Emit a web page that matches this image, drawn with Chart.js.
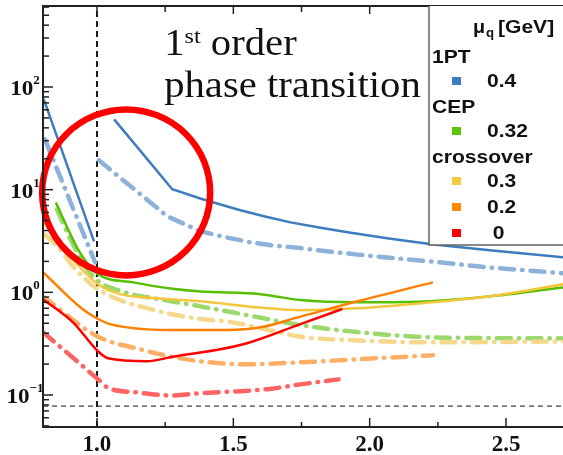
<!DOCTYPE html>
<html>
<head>
<meta charset="utf-8">
<script src="https://cdn.jsdelivr.net/npm/chart.js@4.4.1/dist/chart.umd.min.js"></script>
<style>
  html, body { margin: 0; padding: 0; background: #fff; }
  #wrap { width: 563px; height: 455px; }
</style>
</head>
<body>
<div id="wrap"><canvas id="chart" width="563" height="455"></canvas></div>
<script>
// ── Axes ─────────────────────────────────────────────────────────────────────
const xTicks = [1.0, 1.5, 2.0, 2.5];
const xMinorTicks = [1.25, 1.75, 2.25];
const yDecades = [-1, 0, 1, 2];
const X_MIN = 0.802, X_MAX = 2.709;
const Y_MIN = 0.0488, Y_MAX = 615;

// ── Series (null = break in the curve) ───────────────────────────────────────
// mu_q = 0.4 (1PT)
const xBlueSolid = [0.805, 0.989, 1.03, 1.063, 1.276, 1.379, 1.45, 1.526, 1.62, 1.710, 1.82, 1.919, 2.07, 2.235, 2.45, 2.713];
const yBlueSolid = [75.7, 3.14, null, 48.4, 10.1, 8.2, 7.2, 6.3, 5.45, 4.8, 4.25, 3.84, 3.35, 2.93, 2.56, 2.19];
const xBlueDash = [0.809, 0.993, 1.0, 1.007, 1.258, 1.379, 1.47, 1.563, 1.65, 1.746, 1.85, 1.956, 2.09, 2.225, 2.434, 2.713];
const yBlueDash = [30.9, 1.96, null, 19.3, 5.5, 3.93, 3.45, 3.07, 2.85, 2.7, 2.5, 2.33, 2.15, 2.0, 1.75, 1.53];

// mu_q = 0.32 (CEP)
const xGreenSolid = [0.849, 0.937, 1.004, 1.133, 1.269, 1.379, 1.600, 1.746, 1.956, 2.225, 2.434, 2.713];
const yGreenSolid = [7.5, 2.45, 1.50, 1.25, 1.09, 1.02, 0.96, 0.84, 0.80, 0.82, 0.91, 1.12];
const xGreenDash = [0.853, 0.912, 0.985, 1.092, 1.232, 1.379, 1.537, 1.746, 1.956, 2.225, 2.713];
const yGreenDash = [6.4, 2.93, 1.43, 1.02, 0.855, 0.73, 0.61, 0.48, 0.41, 0.365, 0.356];

// mu_q = 0.3 (crossover)
const xYellowSolid = [0.802, 0.911, 1.004, 1.085, 1.232, 1.379, 1.600, 1.746, 1.956, 2.225, 2.434, 2.713];
const yYellowSolid = [4.9, 2.1, 1.20, 0.96, 0.87, 0.82, 0.71, 0.67, 0.70, 0.80, 0.91, 1.20];
const xYellowDash = [0.808, 0.864, 0.912, 1.004, 1.232, 1.379, 1.478, 1.647, 1.746, 1.956, 2.225, 2.713];
const yYellowDash = [3.67, 2.62, 1.79, 1.07, 0.65, 0.55, 0.52, 0.42, 0.37, 0.34, 0.326, 0.333];

// mu_q = 0.2
const xOrangeSolid = [0.802, 0.949, 1.004, 1.048, 1.269, 1.478, 1.600, 1.746, 1.956, 2.232];
const yOrangeSolid = [1.57, 0.68, 0.55, 0.49, 0.43, 0.43, 0.456, 0.58, 0.82, 1.25];
const xOrangeDash = [0.802, 1.004, 1.158, 1.269, 1.379, 1.537, 1.746, 1.956, 2.232];
const yOrangeDash = [0.91, 0.37, 0.279, 0.238, 0.213, 0.199, 0.208, 0.223, 0.244];

// mu_q = 0
const xRedSolid = [0.802, 0.912, 1.004, 1.040, 1.184, 1.269, 1.537, 1.746, 1.867, 1.900];
const yRedSolid = [0.855, 0.51, 0.266, 0.228, 0.213, 0.233, 0.312, 0.49, 0.64, 0.69];
const xRedDash = [0.802, 1.004, 1.037, 1.147, 1.269, 1.379, 1.625, 1.746, 1.886];
const yRedDash = [0.41, 0.142, 0.119, 0.106, 0.099, 0.104, 0.114, 0.127, 0.142];

// reference lines and highlighted region
const refLineX = 1.0;
const refLineY = 0.078;
const circleCenter = [1.107, 9.4];

// legend entries
const legendGroups = [
  { title: '1PT', items: [{ label: '0.4', color: '#3d7cbf' }] },
  { title: 'CEP', items: [{ label: '0.32', color: '#5cc40a' }] },
  { title: 'crossover', items: [
    { label: '0.3', color: '#f5c93f' },
    { label: '0.2', color: '#ff8a00' },
    { label: ' 0', color: '#ff0000' }
  ] }
];

const pts = (xs, ys) => xs.map((x, i) => ({ x, y: ys[i] }));

const DASHDOT = [14, 8, 0.5, 8];
function solid(xs, ys, color, straight) {
  const ds = { data: pts(xs, ys), borderColor: color, borderWidth: 2.5, pointRadius: 0, fill: false };
  if (straight) ds.tension = 0; else ds.cubicInterpolationMode = 'monotone';
  return ds;
}
function dashed(xs, ys, color, straight) {
  const ds = { data: pts(xs, ys), borderColor: color, borderWidth: 4.5, pointRadius: 0,
               borderDash: DASHDOT, borderCapStyle: 'round', fill: false };
  if (straight) ds.tension = 0; else ds.cubicInterpolationMode = 'monotone';
  return ds;
}

// ── Helpers for drawn text ───────────────────────────────────────────────────
function stretchText(ctx, text, x, y, sx) {
  ctx.save();
  ctx.translate(x, y);
  ctx.scale(sx, 1);
  ctx.fillText(text, 0, 0);
  ctx.restore();
  return ctx.measureText(text).width * sx;
}
function tick(ctx, x1, y1, x2, y2) {
  ctx.beginPath(); ctx.moveTo(x1, y1); ctx.lineTo(x2, y2); ctx.stroke();
}

const overlay = {
  id: 'overlay',
  afterDatasetsDraw(chart) {
    const { ctx, chartArea: a, scales: { x, y } } = chart;
    ctx.save();

    // red circle around the 1PT region
    ctx.strokeStyle = '#ff0000';
    ctx.lineWidth = 6.5;
    ctx.beginPath();
    ctx.ellipse(x.getPixelForValue(circleCenter[0]), y.getPixelForValue(circleCenter[1]), 84, 83, 0, 0, Math.PI * 2);
    ctx.stroke();

    // frame
    ctx.strokeStyle = '#222';
    ctx.lineWidth = 2;
    ctx.beginPath();
    ctx.moveTo(a.right, a.top); ctx.lineTo(a.left, a.top);
    ctx.lineTo(a.left, a.bottom); ctx.lineTo(a.right, a.bottom);
    ctx.stroke();

    // tick marks (inside)
    ctx.lineWidth = 1.5;
    xTicks.forEach(v => {
      const px = x.getPixelForValue(v);
      tick(ctx, px, a.bottom, px, a.bottom - 9);
      tick(ctx, px, a.top, px, a.top + 8);
    });
    xMinorTicks.forEach(v => {
      const px = x.getPixelForValue(v);
      tick(ctx, px, a.bottom, px, a.bottom - 5);
      tick(ctx, px, a.top, px, a.top + 6);
    });
    for (let e = -2; e <= 2; e++) {
      for (let m = 1; m <= 9; m++) {
        const v = m * Math.pow(10, e);
        if (v < Y_MIN || v > Y_MAX) continue;
        const py = y.getPixelForValue(v);
        tick(ctx, a.left, py, a.left + (m === 1 ? 10 : 6), py);
      }
    }

    // y labels 10^n
    ctx.fillStyle = '#111';
    ctx.textBaseline = 'alphabetic';
    yDecades.forEach(e => {
      const py = y.getPixelForValue(Math.pow(10, e));
      const sup = e < 0 ? '\u2212' + Math.abs(e) : String(e);
      ctx.font = 'bold 21px "Liberation Serif"';
      const wBase = ctx.measureText('10').width * 1.1;
      ctx.font = 'bold 13px "Liberation Serif"';
      const wSup = ctx.measureText(sup).width;
      const left = 25 - (wBase + wSup) / 2;
      ctx.font = 'bold 21px "Liberation Serif"';
      stretchText(ctx, '10', left, py + 8, 1.1);
      ctx.font = 'bold 13px "Liberation Serif"';
      ctx.fillText(sup, left + wBase, py - 3);
    });

    // annotation text
    ctx.fillStyle = '#111';
    const tx = x.getPixelForValue(1.25) - 1;
    ctx.font = '37px "Liberation Serif"';
    let cx = tx + stretchText(ctx, '1', tx, a.top + 49, 1.1);
    ctx.font = '22px "Liberation Serif"';
    cx += stretchText(ctx, 'st', cx, a.top + 37, 1.1);
    ctx.font = '37px "Liberation Serif"';
    stretchText(ctx, ' order', cx, a.top + 49, 1.1);
    stretchText(ctx, 'phase transition', tx, a.top + 91, 1.1);

    // legend box
    const lx = 429, ly = a.top, lb = 245;
    ctx.fillStyle = '#fff';
    ctx.fillRect(lx, ly, a.right - lx + 2, lb - ly);
    ctx.strokeStyle = '#666';
    ctx.lineWidth = 1.5;
    ctx.beginPath();
    ctx.moveTo(lx, ly); ctx.lineTo(lx, lb); ctx.lineTo(a.right + 2, lb);
    ctx.stroke();

    ctx.fillStyle = '#111';
    ctx.font = 'bold 18px "Liberation Sans"';
    let hx = lx + 44;
    hx += stretchText(ctx, '\u03bc', hx, 33, 1.1);
    ctx.font = 'bold 12px "Liberation Sans"';
    stretchText(ctx, 'q', hx + 1, 37, 1.1);
    ctx.font = 'bold 18px "Liberation Sans"';
    stretchText(ctx, '[GeV]', lx + 69, 33, 1.17);

    let by = 63;
    legendGroups.forEach(g => {
      ctx.fillStyle = '#111';
      ctx.font = 'bold 18px "Liberation Sans"';
      stretchText(ctx, g.title, lx + 3, by, 1.17);
      by += 24;
      g.items.forEach(it => {
        ctx.fillStyle = it.color;
        ctx.fillRect(lx + 23, by - 10, 9, 8);
        ctx.fillStyle = '#111';
        stretchText(ctx, it.label, lx + 58, by, 1.17);
        by += 26;
      });
    });

    ctx.restore();
  }
};

new Chart(document.getElementById('chart'), {
  type: 'line',
  data: {
    datasets: [
      solid(xRedSolid, yRedSolid, '#ff0000'),
      solid(xOrangeSolid, yOrangeSolid, '#ff8000'),
      solid(xYellowSolid, yYellowSolid, '#f5c63c'),
      solid(xGreenSolid, yGreenSolid, '#55bf00'),
      solid(xBlueSolid, yBlueSolid, '#3d7cbf', true),
      dashed(xRedDash, yRedDash, '#ff6363'),
      dashed(xOrangeDash, yOrangeDash, '#ffae66'),
      dashed(xYellowDash, yYellowDash, '#f5d88c'),
      dashed(xGreenDash, yGreenDash, '#9cd96c'),
      dashed(xBlueDash, yBlueDash, '#8db2d9', true),
      { data: [{ x: refLineX, y: Y_MIN }, { x: refLineX, y: Y_MAX }], borderColor: '#1a1a1a',
        borderWidth: 2, borderDash: [6, 4], pointRadius: 0 },
      { data: [{ x: X_MIN, y: refLineY }, { x: X_MAX, y: refLineY }], borderColor: '#777',
        borderWidth: 1.6, borderDash: [5, 4], pointRadius: 0 }
    ]
  },
  options: {
    responsive: false,
    animation: false,
    layout: { padding: { top: 6, right: 0, left: 0, bottom: 0 } },
    plugins: { legend: { display: false }, tooltip: { enabled: false } },
    scales: {
      x: {
        type: 'linear', min: X_MIN, max: X_MAX,
        grid: { display: false, drawTicks: false },
        border: { display: false },
        afterBuildTicks: s => { s.ticks = xTicks.map(v => ({ value: v })); },
        afterFit: s => { s.height = 28; },
        ticks: {
          padding: 4, color: '#111',
          font: { family: 'Liberation Serif', size: 23, weight: 'bold' },
          callback: v => v.toFixed(1)
        }
      },
      y: {
        type: 'logarithmic', min: Y_MIN, max: Y_MAX,
        grid: { display: false, drawTicks: false },
        border: { display: false },
        ticks: { display: false },
        afterFit: s => { s.width = 43; }
      }
    }
  },
  plugins: [overlay]
});
</script>
</body>
</html>
